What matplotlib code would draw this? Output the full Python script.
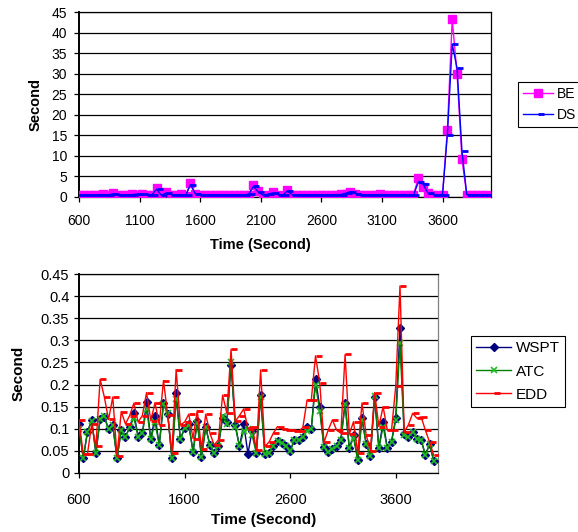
import numpy as np
import matplotlib
matplotlib.use("Agg")
import matplotlib.pyplot as plt
from matplotlib.path import Path

plt.rcParams['font.family'] = ['Liberation Sans', 'DejaVu Sans']

# sample times (s), one every 40 s
t = np.arange(600, 3961, 40)

# top chart
be = [0.5, 0.4, 0.5, 0.5, 0.4, 0.7, 0.6, 0.9, 0.6, 0.4, 0.5, 0.7, 0.6, 0.8, 0.6, 0.5,
      2.2, 0.3, 1.3, 0.6, 0.5, 0.7, 0.3, 3.3, 0.8, 0.5, 0.6, 0.4, 0.5, 0.4, 0.6, 0.5,
      0.4, 0.5, 0.6, 0.6, 2.8, 1.5, 0.3, 0.6, 1.2, 0.5, 0.3, 1.8, 0.4, 0.5, 0.4, 0.5,
      0.6, 0.5, 0.4, 0.5, 0.6, 0.5, 0.7, 0.8, 1.1, 0.7, 0.5, 0.4, 0.5, 0.4, 0.7, 0.5,
      0.4, 0.5, 0.6, 0.5, 0.4, 0.5, 4.6, 2.4, 1.0, 0.5, 0.4, 0.5, 16.3, 43.2, 29.9, 9.2,
      0.5, 0.6, 0.5, 0.4, 0.4]
ds = [0.4, 0.4, 0.5, 0.4, 0.5, 0.6, 0.5, 0.8, 0.6, 0.5, 0.4, 0.6, 0.7, 0.7, 0.5, 0.5,
      1.9, 0.4, 1.0, 0.6, 0.5, 0.6, 0.4, 3.0, 0.8, 0.6, 0.5, 0.5, 0.4, 0.5, 0.5, 0.4,
      0.5, 0.5, 0.5, 0.7, 2.6, 1.2, 0.4, 0.7, 1.0, 0.6, 0.4, 1.5, 0.5, 0.4, 0.5, 0.5,
      0.5, 0.6, 0.5, 0.4, 0.5, 0.6, 0.6, 0.9, 1.3, 0.8, 0.6, 0.5, 0.4, 0.5, 0.6, 0.6,
      0.5, 0.4, 0.5, 0.6, 0.5, 0.4, 3.6, 3.1, 0.9, 0.6, 0.5, 0.6, 15.2, 37.2, 31.3, 11.3,
      0.6, 0.5, 0.5, 0.5, 0.4]

# bottom chart
wspt = [0.110, 0.033, 0.093, 0.120, 0.045, 0.122, 0.126, 0.099, 0.108, 0.033, 0.097,
        0.082, 0.103, 0.135, 0.082, 0.090, 0.160, 0.076, 0.129, 0.063, 0.158, 0.134,
        0.033, 0.180, 0.077, 0.101, 0.111, 0.048, 0.118, 0.037, 0.103, 0.063, 0.045,
        0.060, 0.124, 0.116, 0.244, 0.109, 0.060, 0.110, 0.044, 0.096, 0.045, 0.176,
        0.042, 0.045, 0.062, 0.073, 0.067, 0.060, 0.050, 0.075, 0.075, 0.081, 0.103,
        0.099, 0.212, 0.150, 0.058, 0.048, 0.054, 0.061, 0.075, 0.159, 0.056, 0.086,
        0.029, 0.125, 0.065, 0.039, 0.171, 0.056, 0.116, 0.056, 0.071, 0.125, 0.327,
        0.088, 0.082, 0.093, 0.078, 0.075, 0.041, 0.065, 0.027]
atc = [0.100, 0.033, 0.093, 0.118, 0.045, 0.122, 0.128, 0.099, 0.108, 0.033, 0.097,
       0.082, 0.103, 0.125, 0.082, 0.090, 0.145, 0.076, 0.115, 0.063, 0.155, 0.135,
       0.033, 0.168, 0.077, 0.101, 0.108, 0.048, 0.112, 0.037, 0.103, 0.063, 0.045,
       0.060, 0.130, 0.110, 0.252, 0.105, 0.060, 0.095, 0.100, 0.085, 0.045, 0.172,
       0.042, 0.045, 0.062, 0.073, 0.067, 0.060, 0.050, 0.075, 0.075, 0.081, 0.095,
       0.099, 0.200, 0.140, 0.058, 0.048, 0.054, 0.061, 0.075, 0.155, 0.056, 0.080,
       0.029, 0.120, 0.065, 0.039, 0.175, 0.056, 0.105, 0.056, 0.071, 0.120, 0.293,
       0.085, 0.082, 0.093, 0.078, 0.075, 0.041, 0.065, 0.027]
edd = [0.120, 0.043, 0.043, 0.110, 0.060, 0.212, 0.172, 0.121, 0.172, 0.038, 0.139,
       0.111, 0.130, 0.158, 0.115, 0.130, 0.182, 0.118, 0.159, 0.109, 0.209, 0.132,
       0.045, 0.234, 0.109, 0.115, 0.133, 0.078, 0.141, 0.055, 0.133, 0.090, 0.063,
       0.075, 0.176, 0.136, 0.280, 0.117, 0.130, 0.145, 0.100, 0.105, 0.052, 0.233,
       0.060, 0.070, 0.090, 0.105, 0.100, 0.098, 0.097, 0.096, 0.094, 0.103, 0.165,
       0.165, 0.265, 0.204, 0.069, 0.097, 0.120, 0.097, 0.090, 0.268, 0.088, 0.116,
       0.045, 0.158, 0.086, 0.050, 0.182, 0.105, 0.150, 0.097, 0.097, 0.197, 0.423,
       0.093, 0.109, 0.135, 0.124, 0.127, 0.097, 0.070, 0.040]

# Excel-like dash marker that sits to the right of the point
dash = Path([(0, 0), (1, 0)], [Path.MOVETO, Path.LINETO])

fig = plt.figure(figsize=(5.78, 5.32), dpi=100)


def style_axes(ax, fs):
    ax.grid(axis='y', color='black', lw=0.9, zorder=0)
    ax.set_axisbelow(True)
    for s in ax.spines.values():
        s.set_color('black')
        s.set_linewidth(0.9)
    ax.spines['left'].set_linewidth(1.4)
    ax.tick_params(axis='both', labelsize=fs, direction='out', length=3.5, width=0.9)


# top chart
ax1 = fig.add_axes([79/578, 1 - 197/532, 412/578, 185/532])
ax1.plot(t, be, color='#FF00FF', lw=1.0, marker='s', ms=6, mfc='#FF00FF',
         mec='#FF00FF', label='BE', zorder=3)
ax1.plot(t, ds, color='#0000FF', lw=1.0, marker=dash, ms=9, mew=2,
         mec='#0000FF', label='DS', zorder=4)
ax1.set_xlim(600, 4000)
ax1.set_ylim(0, 45)
ax1.set_xticks([600, 1100, 1600, 2100, 2600, 3100, 3600])
ax1.set_yticks(range(0, 46, 5))
style_axes(ax1, 10)
ax1.tick_params(axis='x', pad=9)
ax1.tick_params(axis='y', pad=5)
ax1.set_xlabel('Time (Second)', fontsize=10.5, fontweight='bold')
ax1.xaxis.set_label_coords(0.44, -0.22)
ax1.set_ylabel('Second', fontsize=10.5, fontweight='bold')
ax1.yaxis.set_label_coords(-0.088, 0.5)

fig.legend(*ax1.get_legend_handles_labels(), loc='upper left',
           bbox_to_anchor=(518/578, 1 - 82/532), fontsize=10, frameon=True,
           fancybox=False, edgecolor='black', framealpha=1, borderaxespad=0,
           handlelength=2.2, labelspacing=0.5, borderpad=0.35,
           handletextpad=0.25).get_frame().set_linewidth(0.8)

# bottom chart
ax2 = fig.add_axes([79/578, 1 - 473/532, 359/578, 199/532])
ax2.plot(t, wspt, color='#000080', lw=1.0, marker='D', ms=4.5, mfc='#000080',
         mec='#000080', label='WSPT', zorder=3)
ax2.plot(t, atc, color='#008000', lw=1.0, marker='x', ms=5, mew=1.2,
         mec='#22BB22', label='ATC', zorder=4)
ax2.plot(t, edd, color='#FF0000', lw=1.0, marker=dash, ms=9, mew=2,
         mec='#FF0000', label='EDD', zorder=5)
ax2.set_xlim(600, 4000)
ax2.set_ylim(0, 0.45)
ax2.set_xticks([600, 1600, 2600, 3600])
ax2.set_yticks(np.arange(0, 0.451, 0.05))
ax2.set_yticklabels(['0', '0.05', '0.1', '0.15', '0.2', '0.25', '0.3', '0.35', '0.4', '0.45'])
style_axes(ax2, 10.5)
ax2.spines['right'].set_color('#808080')
ax2.tick_params(axis='x', pad=11)
ax2.tick_params(axis='y', pad=3.5)
ax2.set_xlabel('Time (Second)', fontsize=11, fontweight='bold')
ax2.xaxis.set_label_coords(0.515, -0.2)
ax2.set_ylabel('Second', fontsize=11, fontweight='bold')
ax2.yaxis.set_label_coords(-0.15, 0.5)

fig.legend(*ax2.get_legend_handles_labels(), loc='upper left',
           bbox_to_anchor=(471/578, 1 - 336/532), fontsize=11, frameon=True,
           fancybox=False, edgecolor='black', framealpha=1, borderaxespad=0,
           handlelength=2.3, labelspacing=0.6, borderpad=0.35,
           handletextpad=0.3).get_frame().set_linewidth(0.8)

fig.savefig('out.png', dpi=100)
